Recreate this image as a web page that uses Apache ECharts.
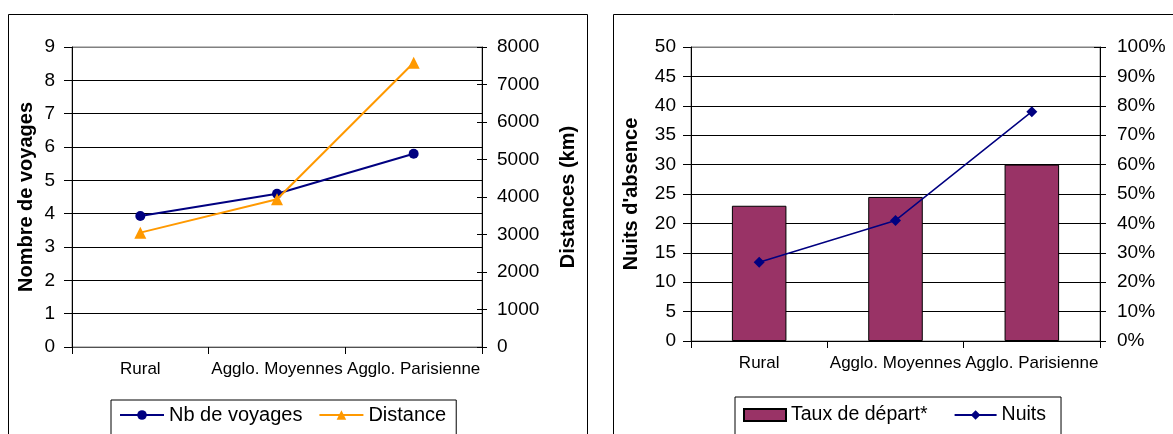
<!DOCTYPE html>
<html>
<head>
<meta charset="utf-8">
<script src="https://cdn.jsdelivr.net/npm/echarts@6/dist/echarts.min.js"></script>
<style>
html,body{margin:0;padding:0;background:#fff;}
#c{width:1173px;height:434px;}
</style>
</head>
<body>
<div id="c"></div>
<script>
// ---- data ----
const categories = ['Rural', 'Agglo. Moyennes', 'Agglo. Parisienne'];
const nbVoyages = [3.93, 4.6, 5.8];
const distanceKm = [3050, 3940, 7580];
const tauxDepart = [46, 49, 60];
const nuits = [13.4, 20.5, 39.0];

const FONT = '"Liberation Sans", Arial, sans-serif';
const chart = echarts.init(document.getElementById('c'), null, {renderer: 'canvas'});

const tickLbl = {color: '#000', fontFamily: FONT, fontSize: 19};
const catLbl = {color: '#000', fontFamily: FONT, fontSize: 17, interval: 0, margin: 14};
const titleStyle = {color: '#000', fontFamily: FONT, fontSize: 20, fontWeight: 'bold'};

const option = {
  animation: false,
  backgroundColor: '#fff',
  graphic: [
    {type: 'rect', shape: {x: 8.5, y: 14.5, width: 579, height: 460}, style: {fill: 'none', stroke: '#000', lineWidth: 1}, z: -10},
    {type: 'rect', shape: {x: 613.5, y: 14.5, width: 600, height: 460}, style: {fill: 'none', stroke: '#000', lineWidth: 1}, z: -10}
  ],
  grid: [
    {left: 72, top: 47, width: 410, height: 300, show: true, borderColor: '#808080', borderWidth: 1, backgroundColor: 'transparent'},
    {left: 691, top: 47, width: 409, height: 294, show: true, borderColor: '#808080', borderWidth: 1, backgroundColor: 'transparent'}
  ],
  legend: [
    {
      data: ['Nb de voyages', 'Distance'],
      left: 111, top: 400,
      padding: [4, 10, 20, 8],
      itemGap: 16, itemWidth: 44, itemHeight: 12,
      borderColor: '#000', borderWidth: 1,
      textStyle: {color: '#000', fontFamily: FONT, fontSize: 20, lineHeight: 22}
    },
    {
      data: [{name: 'Taux de départ*', icon: 'rect'}, 'Nuits'],
      left: 735, top: 397,
      padding: [7, 15, 20, 8],
      itemGap: 26, itemWidth: 42, itemHeight: 12,
      borderColor: '#000', borderWidth: 1,
      textStyle: {color: '#000', fontFamily: FONT, fontSize: 19.5, lineHeight: 22}
    }
  ],
  xAxis: [
    {
      type: 'category', gridIndex: 0, data: categories, boundaryGap: true,
      axisLine: {lineStyle: {color: '#505050', width: 1}},
      axisTick: {show: true, alignWithLabel: false, length: 7, lineStyle: {color: '#000'}},
      axisLabel: catLbl,
      splitLine: {show: false}
    },
    {
      type: 'category', gridIndex: 1, data: categories, boundaryGap: true,
      axisLine: {lineStyle: {color: '#000', width: 1}},
      axisTick: {show: true, alignWithLabel: false, length: 7, lineStyle: {color: '#000'}},
      axisLabel: catLbl,
      splitLine: {show: false}
    }
  ],
  yAxis: [
    { // 0: left chart, left axis
      type: 'value', gridIndex: 0, position: 'left', min: 0, max: 9, interval: 1,
      name: 'Nombre de voyages', nameLocation: 'middle', nameRotate: 90, nameGap: 36,
      nameTextStyle: titleStyle,
      axisLine: {show: true, lineStyle: {color: '#000'}},
      axisTick: {show: true, inside: false, length: 8, lineStyle: {color: '#000'}},
      axisLabel: Object.assign({margin: 17}, tickLbl),
      splitLine: {show: true, lineStyle: {color: ['#808080','#000','#000','#000','#000','#000','#000','#000','#000','#808080'], width: 1}}
    },
    { // 1: left chart, right axis
      type: 'value', gridIndex: 0, position: 'right', min: 0, max: 8000, interval: 1000,
      name: 'Distances (km)', nameLocation: 'middle', nameRotate: 90, nameGap: 76,
      nameTextStyle: titleStyle,
      axisLine: {show: true, lineStyle: {color: '#000'}},
      axisTick: {show: true, inside: false, length: 5, lineStyle: {color: '#000'}},
      axisLabel: Object.assign({margin: 15, formatter: v => String(v)}, tickLbl),
      splitLine: {show: false}
    },
    { // 2: left chart, right axis inner ticks (cross)
      type: 'value', gridIndex: 0, position: 'right', min: 0, max: 8000, interval: 1000,
      axisLine: {show: false},
      axisTick: {show: true, inside: true, length: 5, lineStyle: {color: '#000'}},
      axisLabel: {show: false},
      splitLine: {show: false}
    },
    { // 3: right chart, left axis
      type: 'value', gridIndex: 1, position: 'left', min: 0, max: 50, interval: 5,
      name: "Nuits d'absence", nameLocation: 'middle', nameRotate: 90, nameGap: 50,
      nameTextStyle: titleStyle,
      axisLine: {show: true, lineStyle: {color: '#000'}},
      axisTick: {show: true, inside: false, length: 8, lineStyle: {color: '#000'}},
      axisLabel: Object.assign({margin: 15}, tickLbl),
      splitLine: {show: true, lineStyle: {color: ['#000','#000','#000','#000','#000','#000','#000','#000','#000','#000','#808080'], width: 1}}
    },
    { // 4: right chart, right axis
      type: 'value', gridIndex: 1, position: 'right', min: 0, max: 100, interval: 10,
      axisLine: {show: true, lineStyle: {color: '#000'}},
      axisTick: {show: true, inside: false, length: 6, lineStyle: {color: '#000'}},
      axisLabel: Object.assign({margin: 17, formatter: v => v + '%'}, tickLbl),
      splitLine: {show: false}
    },
    { // 5: right chart, right axis inner ticks
      type: 'value', gridIndex: 1, position: 'right', min: 0, max: 100, interval: 10,
      axisLine: {show: false},
      axisTick: {show: true, inside: true, length: 6, lineStyle: {color: '#000'}},
      axisLabel: {show: false},
      splitLine: {show: false}
    }
  ],
  series: [
    {
      name: 'Nb de voyages', type: 'line', xAxisIndex: 0, yAxisIndex: 0, data: nbVoyages,
      symbol: 'circle', symbolSize: 10, color: '#000080',
      lineStyle: {color: '#000080', width: 2}, itemStyle: {color: '#000080'}, z: 3
    },
    {
      name: 'Distance', type: 'line', xAxisIndex: 0, yAxisIndex: 1, data: distanceKm,
      symbol: 'triangle', symbolSize: 12, color: '#FF9900',
      lineStyle: {color: '#FF9900', width: 2}, itemStyle: {color: '#FF9900'}, z: 4
    },
    {
      name: 'Taux de départ*', type: 'bar', xAxisIndex: 1, yAxisIndex: 4, data: tauxDepart,
      barWidth: '40%', color: '#993366',
      itemStyle: {color: '#993366', borderColor: '#000', borderWidth: 1}, z: 2
    },
    {
      name: 'Nuits', type: 'line', xAxisIndex: 1, yAxisIndex: 3, data: nuits,
      symbol: 'diamond', symbolSize: 11, color: '#000080',
      lineStyle: {color: '#000080', width: 1.5}, itemStyle: {color: '#000080'}, z: 4
    }
  ]
};
chart.setOption(option);
</script>
</body>
</html>
